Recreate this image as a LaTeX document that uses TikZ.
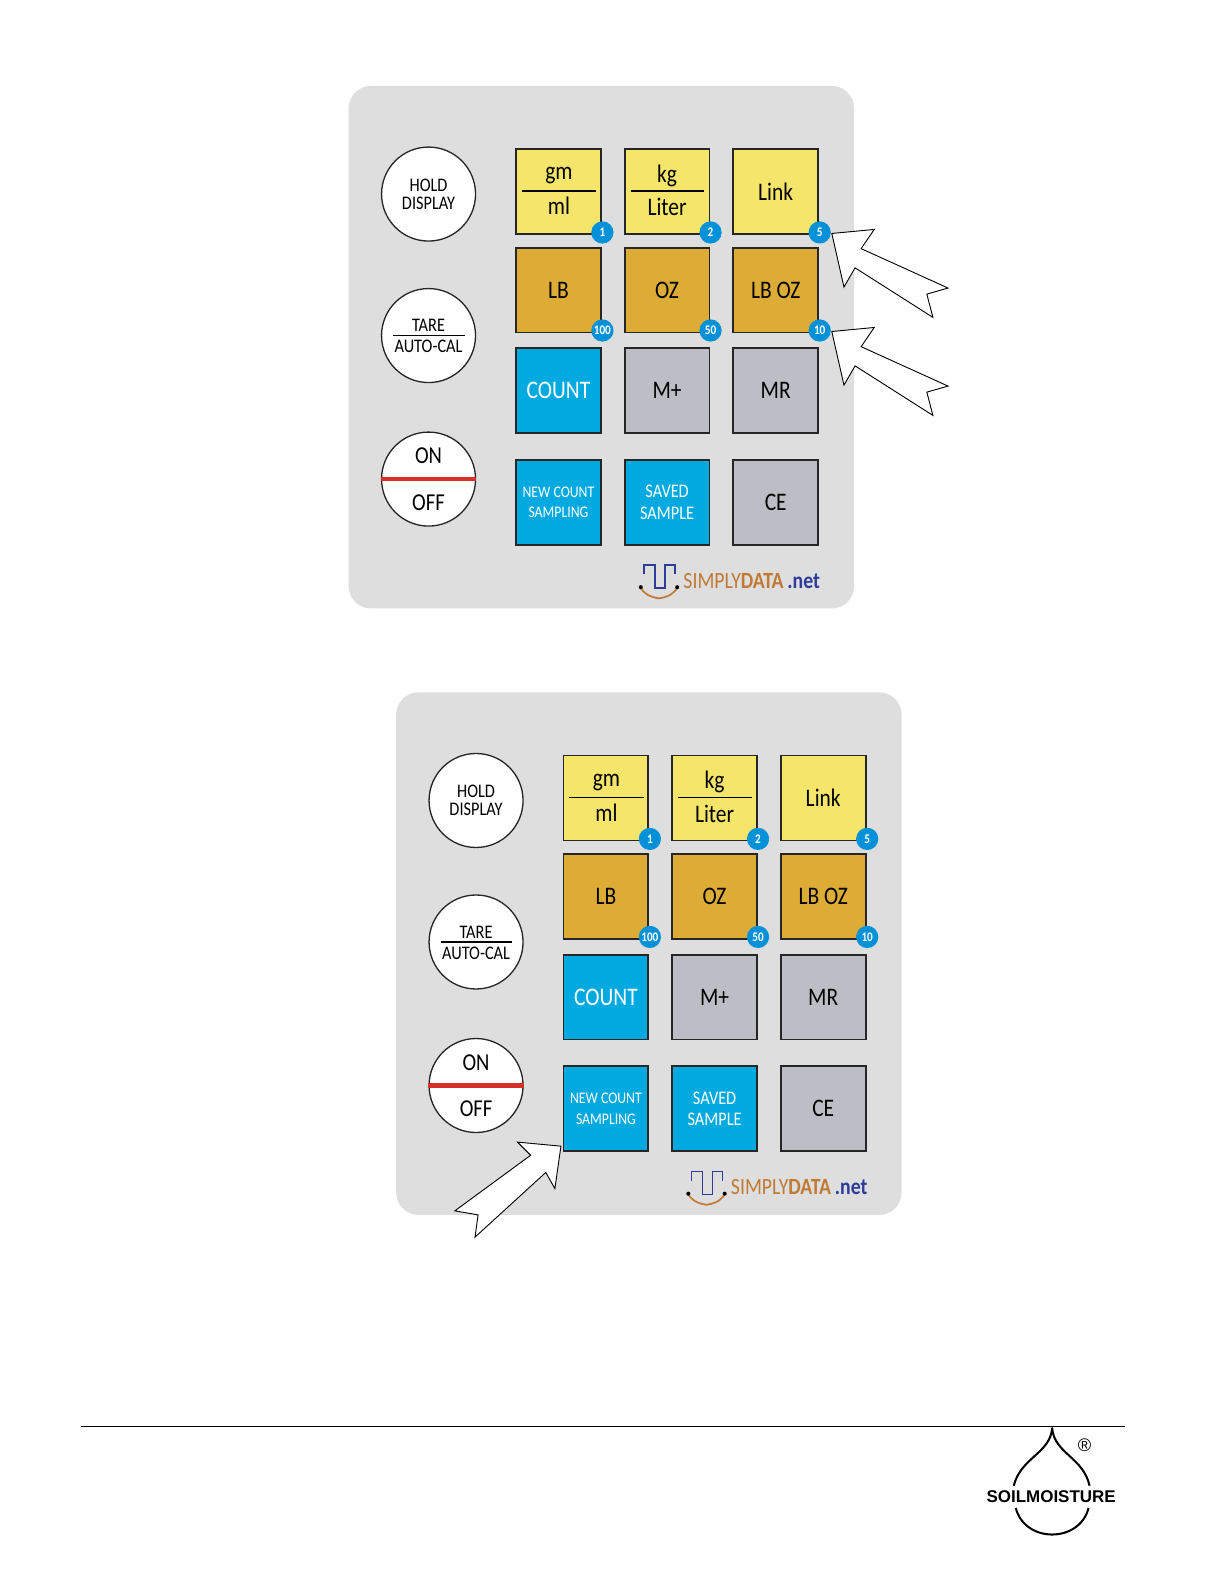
\documentclass[tikz,border=0pt]{standalone}
\usepackage{fontspec}
\setmainfont[FakeStretch=0.85]{Carlito}
\newfontfamily\brandfont{Liberation Sans}
\definecolor{panelgray}{HTML}{DEDEDE}
\definecolor{keyyellow}{HTML}{F5E56B}
\definecolor{keygold}{HTML}{DDAC36}
\definecolor{keyblue}{HTML}{00A9DF}
\definecolor{keygray}{HTML}{BDBDC5}
\definecolor{badgeblue}{HTML}{0091D9}
\definecolor{keyred}{HTML}{D6302A}
\definecolor{logoorange}{HTML}{C07A35}
\definecolor{logoblue}{HTML}{2F3C9A}
\tikzset{
  keybox/.style={draw=black!85, line width=1.8, inner sep=0pt, minimum width=84, minimum height=84, fill=#1},
  roundkey/.style={draw=black!85, line width=1.3, fill=white, circle, inner sep=0pt, minimum size=93},
  badge/.style={circle, fill=badgeblue, inner sep=0pt, minimum size=22, text=white, font=\fontsize{13}{13}\selectfont\bfseries},
  big/.style={font=\fontsize{25}{25}\selectfont, inner sep=0pt},
  small/.style={font=\fontsize{19}{19}\selectfont, inner sep=0pt},
  outline arrow/.style={draw=black, line width=.9, fill=white, line join=miter},
  keypad/.pic={
    \fill[panelgray, rounded corners=22] (345,85) rectangle (845,602);
    % round keys on the left
    \node[roundkey] (hold) at (424,192) {};
    \node[small] (holdt) at (424,183) {HOLD};
    \node[small] (holdb) at (424,201) {DISPLAY};
    \node[roundkey] (tare) at (424,332) {};
    \node[small] (taret) at (424,322) {TARE};
    \node[small] (tareb) at (424,343) {AUTO-CAL};
    \draw[line width=1.1] (389,332) -- (460,332);
    \node[roundkey] (power) at (424,474) {};
    \node[inner sep=0pt, font=\fontsize{24}{24}\selectfont] (on) at (424,451) {ON};
    \node[inner sep=0pt, font=\fontsize{24}{24}\selectfont] (off) at (424,497) {OFF};
    \draw[keyred, line width=4.5] (power.west) -- (power.east);
    % unit keys
    \node[keybox=keyyellow] (gm) at (552.5,189.5) {};
    \node[big] at (553,174) {gm};
    \node[big] at (553,204) {ml};
    \draw[line width=1.1] (516,189) -- (590,189);
    \node[keybox=keyyellow] (kg) at (660,189.5) {};
    \node[big] at (660,174) {kg};
    \node[big] at (660,205) {Liter};
    \draw[line width=1.1] (624,189) -- (697,189);
    \node[keybox=keyyellow] (link) at (767.5,189.5) {\fontsize{25}{25}\selectfont Link};
    \foreach \nm/\cx/\txt in {lb/552.5/LB, oz/660/OZ, lboz/767.5/LB OZ} {
      \node[keybox=keygold, font=\fontsize{25}{25}\selectfont] (\nm) at (\cx,287) {\txt};
    }
    \node[keybox=keyblue, text=white, font=\fontsize{25}{25}\selectfont] (count) at (552.5,386.5) {COUNT};
    \node[keybox=keygray, font=\fontsize{25}{25}\selectfont] (mplus) at (660,386.5) {M+};
    \node[keybox=keygray, font=\fontsize{25}{25}\selectfont] (mr) at (767.5,386.5) {MR};
    \node[keybox=keyblue, text=white, font=\fontsize{16}{20}\selectfont, align=center] (newcount) at (552.5,497) {NEW COUNT\\SAMPLING};
    \node[keybox=keyblue, text=white, font=\fontsize{19}{21}\selectfont, align=center] (saved) at (660,497) {SAVED\\SAMPLE};
    \node[keybox=keygray, font=\fontsize{25}{25}\selectfont] (ce) at (767.5,497) {CE};
    % badges on the corners
    \foreach \bx/\by/\txt in {596/230/1, 703/230/2, 811/230/5, 596/327/100, 703/327/50, 811/327/10} {
      \node[badge] at (\bx,\by) {\txt};
    }
    % logo
    \draw[logoblue, line width=1.6] (637,568) -- (637,559) -- (648,559) -- (648,582) -- (658,582) -- (658,559) -- (668,559) -- (668,568);
    \draw[logoorange, line width=1.7] (634,582) .. controls (640,590) and (646,591) .. (652,592) .. controls (658,591) and (664,590) .. (670,582);
    \fill[black] (634,581) circle[radius=2] (670,581) circle[radius=2];
    \node[anchor=base west, inner sep=0pt, font=\fontsize{23}{23}\selectfont] (brand) at (676,582)
      {\textcolor{logoorange}{SIMPLY\textbf{DATA}}\,\textcolor{logoblue}{\textbf{.net}}};
  }
}
\begin{document}
\begin{tikzpicture}[x=1pt,y=-1pt]
  \useasboundingbox (0,0) rectangle (1212,1568.2);
  \fill[white] (0,0) rectangle (1212,1568.2);

  \pic at (0,0) {keypad};
  \pic at (47,600) {keypad};

  % arrows
  \foreach \dy in {0,97} {
    \draw[outline arrow, yshift=-\dy] (823,231) -- (865,227) -- (852,246) -- (938,285) -- (917,291) -- (923,314) -- (846,265) -- (835,284) -- cycle;
  }
  \draw[outline arrow] (555,1134) -- (512,1130) -- (525,1143) -- (450,1198) -- (473,1202) -- (470,1224) -- (540,1160) -- (549,1176) -- cycle;

  % footer
  \coordinate (footl) at (80,1411);
  \coordinate (footr) at (1113,1411);
  \draw[line width=1] (footl) -- (footr);
  \draw[line width=2, line join=round] (1003,1470) .. controls (1010,1442) and (1039,1438) .. (1041,1413) .. controls (1043,1438) and (1072,1442) .. (1078,1470);
  \draw[line width=2] (1005,1492) .. controls (1014,1527) and (1068,1527) .. (1077,1492);
  \node[inner sep=0pt, font=\brandfont\bfseries\fontsize{16.8}{16.8}\selectfont] (soil) at (1040,1481) {SOILMOISTURE};
  \node[inner sep=0pt, font=\brandfont\fontsize{18}{18}\selectfont] (reg) at (1073,1430) {®};
\end{tikzpicture}
\end{document}
